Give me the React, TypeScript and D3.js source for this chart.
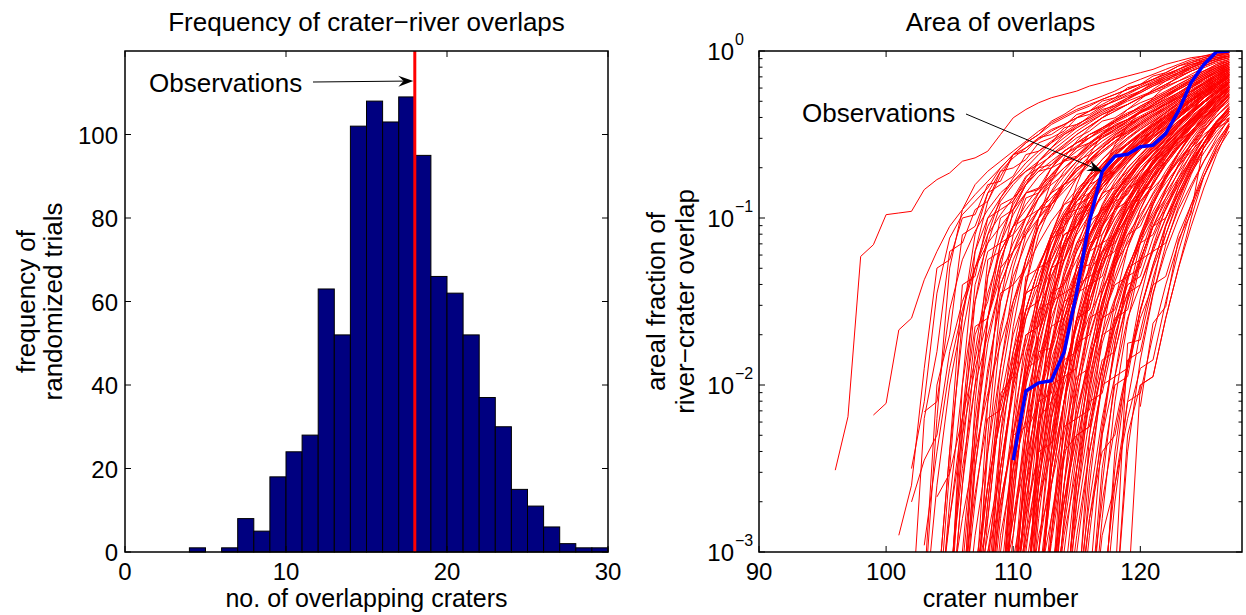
import React from "react";
import * as d3 from "d3";

// ---------------- Left panel data ----------------
const histBins = [4, 5, 6, 7, 8, 9, 10, 11, 12, 13, 14, 15, 16, 17, 18, 19, 20, 21, 22, 23, 24, 25, 26, 27, 28, 29];
const histCounts = [1, 0, 1, 8, 5, 18, 24, 28, 63, 52, 102, 108, 103, 109, 95, 66, 62, 52, 37, 30, 15, 11, 6, 2, 1, 1];
const observedOverlaps = 18;
const leftXTicks = [0, 10, 20, 30];
const leftYTicks = [0, 20, 40, 60, 80, 100];

// ---------------- Right panel data ----------------
const obsCrater = [110, 111, 112, 113, 114, 115, 116, 117, 118, 119, 120, 121, 122, 123, 124, 125, 126, 127];
const obsFraction = [0.00355, 0.0092, 0.0103, 0.0106, 0.0157, 0.036, 0.096, 0.19, 0.234, 0.241, 0.267, 0.273, 0.32, 0.438, 0.647, 0.83, 0.99, 1.0];

// randomized trials: [first crater number, log10(areal fraction) per crater]
const trialCurvesSmooth: [number, number[]][] = [
  [96, [-2.51, -2.19, -1.23, -1.16, -0.98, -0.97, -0.96, -0.83, -0.77, -0.73, -0.66, -0.64, -0.60, -0.50, -0.40, -0.35, -0.31, -0.28, -0.26, -0.24, -0.21, -0.19, -0.17, -0.15, -0.13, -0.11, -0.08, -0.06, -0.04, -0.03, -0.02, -0.01]],
  [99, [-2.18, -2.11, -1.67, -1.60, -1.37, -1.20, -1.05, -0.95, -0.86, -0.78, -0.70, -0.62, -0.55, -0.50, -0.44, -0.40, -0.36, -0.33, -0.29, -0.26, -0.23, -0.20, -0.17, -0.14, -0.11, -0.08, -0.06, -0.04, -0.03]],
  [102, [-2.50, -2.10, -1.45, -1.12, -0.98, -0.90, -0.82, -0.70, -0.62, -0.58, -0.52, -0.47, -0.44, -0.40, -0.36, -0.33, -0.30, -0.27, -0.24, -0.20, -0.17, -0.14, -0.11, -0.08, -0.05, -0.03]],
  [102, [-2.70, -2.45, -2.30, -1.80, -1.50, -1.30, -1.10, -0.98, -0.88, -0.80, -0.72, -0.66, -0.60, -0.55, -0.50, -0.46, -0.42, -0.38, -0.33, -0.29, -0.25, -0.21, -0.17, -0.13, -0.09, -0.06]],
  [103, [-2.16, -2.10, -1.55, -1.25, -1.08, -0.95, -0.85, -0.78, -0.72, -0.68, -0.63, -0.57, -0.50, -0.45, -0.40, -0.36, -0.32, -0.28, -0.24, -0.20, -0.16, -0.12, -0.09, -0.06, -0.04]],
  [103, [-2.96, -2.40, -1.90, -1.55, -1.30, -1.15, -1.05, -0.95, -0.85, -0.75, -0.68, -0.62, -0.57, -0.52, -0.48, -0.45, -0.41, -0.37, -0.33, -0.28, -0.23, -0.19, -0.15, -0.11, -0.08]],
  [104, [-2.67, -2.53, -2.20, -1.85, -1.45, -1.20, -1.05, -0.92, -0.82, -0.74, -0.66, -0.60, -0.55, -0.51, -0.47, -0.43, -0.39, -0.35, -0.30, -0.25, -0.20, -0.16, -0.12, -0.09]],
  [103, [-3.40, -2.60, -2.00, -1.60, -1.20, -1.00, -0.88, -0.78, -0.70, -0.62, -0.55, -0.50, -0.46, -0.42, -0.38, -0.35, -0.32, -0.28, -0.25, -0.22, -0.18, -0.14, -0.10, -0.07, -0.05]],
  [104, [-3.50, -2.80, -2.30, -1.90, -1.60, -1.35, -1.15, -1.00, -0.88, -0.78, -0.70, -0.64, -0.58, -0.52, -0.47, -0.42, -0.37, -0.32, -0.27, -0.22, -0.17, -0.13, -0.10, -0.07]],
  [104, [-3.30, -2.40, -1.70, -1.30, -1.05, -0.90, -0.80, -0.72, -0.66, -0.60, -0.54, -0.48, -0.43, -0.38, -0.34, -0.30, -0.27, -0.24, -0.21, -0.18, -0.15, -0.12, -0.08, -0.05]],
  [105, [-3.60, -3.00, -2.20, -1.60, -1.25, -1.05, -0.95, -0.85, -0.77, -0.70, -0.63, -0.57, -0.52, -0.47, -0.42, -0.37, -0.32, -0.27, -0.22, -0.18, -0.14, -0.10, -0.07]],
  [105, [-3.20, -2.50, -2.00, -1.70, -1.40, -1.20, -1.05, -0.95, -0.88, -0.80, -0.72, -0.65, -0.58, -0.52, -0.46, -0.41, -0.36, -0.31, -0.26, -0.21, -0.16, -0.12, -0.09]],
  [105, [-3.50, -2.60, -1.80, -1.35, -1.10, -0.92, -0.80, -0.70, -0.62, -0.56, -0.50, -0.45, -0.40, -0.36, -0.32, -0.28, -0.24, -0.20, -0.16, -0.12, -0.09, -0.06, -0.04]],
  [106, [-3.40, -2.70, -2.10, -1.65, -1.35, -1.15, -1.00, -0.90, -0.80, -0.72, -0.65, -0.58, -0.52, -0.47, -0.42, -0.37, -0.32, -0.27, -0.22, -0.17, -0.13, -0.10]],
  [106, [-3.10, -2.30, -1.75, -1.40, -1.20, -1.10, -1.00, -0.92, -0.84, -0.76, -0.68, -0.61, -0.55, -0.50, -0.45, -0.40, -0.35, -0.30, -0.25, -0.20, -0.16, -0.12]],
  [106, [-3.60, -2.90, -2.40, -1.90, -1.50, -1.25, -1.05, -0.90, -0.78, -0.68, -0.60, -0.54, -0.49, -0.44, -0.40, -0.36, -0.32, -0.28, -0.23, -0.19, -0.15, -0.11]],
  [106, [-3.30, -2.50, -1.90, -1.50, -1.25, -1.08, -0.95, -0.85, -0.75, -0.66, -0.58, -0.52, -0.48, -0.44, -0.40, -0.36, -0.32, -0.27, -0.22, -0.17, -0.12, -0.08]],
  [107, [-3.50, -2.70, -2.00, -1.55, -1.25, -1.05, -0.92, -0.82, -0.74, -0.67, -0.60, -0.54, -0.49, -0.44, -0.39, -0.34, -0.29, -0.24, -0.19, -0.14, -0.10]],
  [107, [-3.20, -2.60, -2.20, -1.85, -1.55, -1.30, -1.10, -0.96, -0.86, -0.77, -0.69, -0.62, -0.56, -0.50, -0.45, -0.40, -0.35, -0.30, -0.25, -0.20, -0.15]],
  [107, [-3.70, -2.80, -2.10, -1.70, -1.45, -1.28, -1.12, -0.98, -0.85, -0.74, -0.65, -0.57, -0.50, -0.44, -0.39, -0.34, -0.29, -0.24, -0.19, -0.15, -0.11]],
  [107, [-3.40, -2.40, -1.70, -1.30, -1.05, -0.88, -0.76, -0.66, -0.58, -0.52, -0.47, -0.43, -0.39, -0.35, -0.31, -0.27, -0.23, -0.19, -0.15, -0.11, -0.07]],
  [107, [-3.30, -2.90, -2.50, -2.00, -1.60, -1.35, -1.15, -1.00, -0.90, -0.82, -0.74, -0.66, -0.58, -0.51, -0.45, -0.39, -0.34, -0.29, -0.24, -0.19, -0.14]],
  [108, [-3.50, -2.60, -1.95, -1.55, -1.30, -1.12, -0.98, -0.87, -0.78, -0.70, -0.63, -0.56, -0.50, -0.44, -0.38, -0.33, -0.28, -0.23, -0.18, -0.13]],
  [108, [-3.20, -2.40, -1.80, -1.40, -1.10, -0.92, -0.80, -0.71, -0.63, -0.56, -0.50, -0.45, -0.40, -0.36, -0.32, -0.28, -0.24, -0.20, -0.15, -0.11]],
  [108, [-3.60, -3.00, -2.40, -1.95, -1.60, -1.35, -1.17, -1.02, -0.90, -0.80, -0.71, -0.63, -0.56, -0.49, -0.43, -0.37, -0.31, -0.26, -0.21, -0.16]],
  [108, [-3.40, -2.50, -2.00, -1.75, -1.45, -1.20, -1.00, -0.85, -0.74, -0.65, -0.58, -0.52, -0.47, -0.42, -0.37, -0.32, -0.27, -0.22, -0.17, -0.12]],
  [108, [-3.10, -2.30, -1.65, -1.25, -1.00, -0.84, -0.72, -0.63, -0.56, -0.50, -0.45, -0.41, -0.37, -0.33, -0.29, -0.25, -0.21, -0.17, -0.13, -0.09]],
  [108, [-3.50, -2.80, -2.20, -1.80, -1.50, -1.30, -1.15, -1.05, -0.96, -0.88, -0.80, -0.72, -0.64, -0.56, -0.49, -0.42, -0.36, -0.30, -0.24, -0.19]],
  [109, [-3.40, -2.50, -1.90, -1.50, -1.22, -1.02, -0.88, -0.77, -0.68, -0.60, -0.53, -0.47, -0.42, -0.37, -0.32, -0.27, -0.22, -0.17, -0.12]],
  [109, [-3.70, -2.90, -2.20, -1.70, -1.38, -1.15, -0.98, -0.85, -0.75, -0.67, -0.60, -0.54, -0.48, -0.42, -0.36, -0.30, -0.25, -0.20, -0.15]],
  [109, [-3.20, -2.40, -1.85, -1.55, -1.35, -1.18, -1.04, -0.92, -0.82, -0.73, -0.65, -0.58, -0.51, -0.45, -0.39, -0.33, -0.27, -0.22, -0.17]],
  [109, [-3.50, -2.70, -2.00, -1.45, -1.10, -0.90, -0.76, -0.66, -0.58, -0.51, -0.45, -0.40, -0.36, -0.32, -0.28, -0.24, -0.20, -0.15, -0.10]],
  [109, [-3.30, -2.80, -2.30, -1.90, -1.60, -1.38, -1.20, -1.06, -0.94, -0.84, -0.75, -0.67, -0.60, -0.53, -0.46, -0.39, -0.33, -0.27, -0.21]],
  [109, [-3.60, -2.60, -2.10, -1.75, -1.48, -1.26, -1.08, -0.94, -0.82, -0.72, -0.63, -0.55, -0.48, -0.42, -0.36, -0.30, -0.25, -0.20, -0.16]],
  [110, [-3.50, -2.60, -1.95, -1.50, -1.20, -1.00, -0.86, -0.75, -0.66, -0.58, -0.51, -0.45, -0.39, -0.33, -0.27, -0.22, -0.17, -0.12]],
  [110, [-3.30, -2.40, -1.80, -1.42, -1.15, -0.95, -0.80, -0.68, -0.59, -0.52, -0.46, -0.41, -0.36, -0.31, -0.26, -0.21, -0.16, -0.11]],
  [110, [-3.60, -3.00, -2.40, -1.95, -1.60, -1.34, -1.14, -0.98, -0.86, -0.76, -0.67, -0.59, -0.51, -0.44, -0.37, -0.31, -0.25, -0.19]],
  [110, [-3.40, -2.70, -2.10, -1.65, -1.32, -1.08, -0.90, -0.77, -0.67, -0.59, -0.52, -0.46, -0.40, -0.35, -0.30, -0.25, -0.20, -0.15]],
  [110, [-3.20, -2.50, -2.05, -1.75, -1.50, -1.30, -1.12, -0.97, -0.85, -0.75, -0.66, -0.58, -0.50, -0.43, -0.37, -0.31, -0.25, -0.20]],
  [110, [-3.70, -2.80, -2.00, -1.55, -1.25, -1.05, -0.92, -0.82, -0.73, -0.65, -0.57, -0.50, -0.44, -0.38, -0.32, -0.26, -0.20, -0.14]],
  [110, [-3.30, -2.90, -2.50, -2.10, -1.72, -1.42, -1.18, -1.00, -0.86, -0.75, -0.66, -0.58, -0.50, -0.43, -0.36, -0.30, -0.24, -0.18]],
  [111, [-3.50, -2.60, -1.95, -1.50, -1.18, -0.96, -0.80, -0.68, -0.58, -0.50, -0.43, -0.37, -0.31, -0.26, -0.21, -0.16, -0.11]],
  [111, [-3.30, -2.50, -1.90, -1.55, -1.30, -1.10, -0.95, -0.83, -0.73, -0.64, -0.56, -0.49, -0.42, -0.36, -0.30, -0.24, -0.18]],
  [111, [-3.60, -2.80, -2.20, -1.75, -1.42, -1.18, -1.00, -0.86, -0.75, -0.65, -0.57, -0.50, -0.43, -0.37, -0.31, -0.25, -0.19]],
  [111, [-3.40, -2.40, -1.75, -1.35, -1.08, -0.90, -0.77, -0.67, -0.59, -0.52, -0.46, -0.40, -0.34, -0.28, -0.22, -0.17, -0.12]],
  [111, [-3.20, -2.70, -2.30, -1.95, -1.65, -1.40, -1.20, -1.03, -0.89, -0.77, -0.67, -0.58, -0.50, -0.42, -0.35, -0.28, -0.22]],
  [111, [-3.70, -3.00, -2.30, -1.80, -1.45, -1.20, -1.02, -0.88, -0.77, -0.68, -0.60, -0.52, -0.45, -0.38, -0.31, -0.25, -0.19]],
  [111, [-3.50, -2.70, -2.15, -1.70, -1.35, -1.10, -0.93, -0.80, -0.70, -0.62, -0.54, -0.47, -0.40, -0.33, -0.27, -0.21, -0.15]],
  [112, [-3.40, -2.50, -1.85, -1.40, -1.12, -0.92, -0.78, -0.67, -0.58, -0.50, -0.43, -0.36, -0.30, -0.24, -0.18, -0.13]],
  [112, [-3.60, -2.90, -2.25, -1.75, -1.40, -1.15, -0.97, -0.83, -0.72, -0.62, -0.53, -0.45, -0.38, -0.31, -0.25, -0.19]],
  [112, [-3.30, -2.60, -2.10, -1.72, -1.45, -1.25, -1.08, -0.94, -0.82, -0.71, -0.61, -0.52, -0.44, -0.36, -0.29, -0.22]],
  [112, [-3.50, -2.40, -1.70, -1.28, -1.02, -0.85, -0.72, -0.62, -0.54, -0.47, -0.41, -0.35, -0.29, -0.23, -0.17, -0.12]],
  [112, [-3.20, -2.80, -2.40, -2.00, -1.65, -1.38, -1.16, -0.98, -0.84, -0.72, -0.62, -0.53, -0.45, -0.37, -0.30, -0.24]],
  [112, [-3.70, -2.90, -2.10, -1.60, -1.28, -1.06, -0.90, -0.78, -0.68, -0.59, -0.51, -0.44, -0.37, -0.30, -0.24, -0.18]],
  [113, [-3.50, -2.60, -1.90, -1.45, -1.15, -0.94, -0.79, -0.67, -0.57, -0.48, -0.40, -0.33, -0.26, -0.20, -0.14]],
  [113, [-3.30, -2.70, -2.20, -1.80, -1.50, -1.26, -1.07, -0.92, -0.79, -0.68, -0.58, -0.49, -0.41, -0.33, -0.26]],
  [113, [-3.60, -2.80, -2.10, -1.62, -1.30, -1.08, -0.92, -0.79, -0.68, -0.58, -0.49, -0.41, -0.33, -0.26, -0.19]],
  [113, [-3.40, -2.40, -1.75, -1.32, -1.04, -0.86, -0.73, -0.63, -0.54, -0.46, -0.39, -0.32, -0.25, -0.19, -0.13]],
  [113, [-3.20, -2.60, -2.15, -1.85, -1.60, -1.38, -1.18, -1.00, -0.85, -0.72, -0.61, -0.51, -0.42, -0.34, -0.27]],
  [113, [-3.70, -3.00, -2.40, -1.90, -1.52, -1.24, -1.03, -0.87, -0.74, -0.63, -0.53, -0.44, -0.36, -0.29, -0.22]],
  [114, [-3.50, -2.50, -1.85, -1.42, -1.12, -0.90, -0.74, -0.62, -0.52, -0.43, -0.35, -0.28, -0.21, -0.15]],
  [114, [-3.30, -2.80, -2.30, -1.90, -1.58, -1.32, -1.10, -0.92, -0.77, -0.64, -0.53, -0.43, -0.35, -0.28]],
  [114, [-3.60, -2.70, -2.05, -1.60, -1.28, -1.05, -0.88, -0.74, -0.62, -0.52, -0.43, -0.35, -0.27, -0.20]],
  [114, [-3.40, -2.60, -2.00, -1.55, -1.22, -0.98, -0.80, -0.66, -0.55, -0.45, -0.37, -0.30, -0.23, -0.17]],
  [114, [-3.20, -2.50, -2.00, -1.70, -1.48, -1.30, -1.12, -0.96, -0.82, -0.69, -0.58, -0.48, -0.39, -0.31]],
  [115, [-3.50, -2.60, -1.95, -1.50, -1.18, -0.95, -0.78, -0.64, -0.52, -0.42, -0.33, -0.25, -0.18]],
  [115, [-3.30, -2.70, -2.20, -1.80, -1.48, -1.22, -1.00, -0.83, -0.68, -0.56, -0.45, -0.36, -0.28]],
  [115, [-3.60, -2.90, -2.25, -1.75, -1.38, -1.10, -0.90, -0.74, -0.61, -0.50, -0.40, -0.31, -0.24]],
  [115, [-3.40, -2.30, -1.70, -1.30, -1.02, -0.82, -0.67, -0.55, -0.45, -0.36, -0.28, -0.21, -0.14]],
  [116, [-3.50, -2.60, -1.95, -1.48, -1.15, -0.92, -0.75, -0.61, -0.49, -0.38, -0.29, -0.21]],
  [116, [-3.30, -2.70, -2.25, -1.88, -1.56, -1.28, -1.04, -0.85, -0.69, -0.55, -0.43, -0.33]],
  [116, [-3.60, -2.80, -2.10, -1.62, -1.27, -1.02, -0.83, -0.68, -0.55, -0.44, -0.34, -0.26]],
  [117, [-3.40, -2.50, -1.90, -1.48, -1.17, -0.94, -0.76, -0.61, -0.48, -0.37, -0.28]],
  [117, [-3.50, -2.70, -2.10, -1.68, -1.36, -1.10, -0.88, -0.70, -0.55, -0.43, -0.34]],
  [118, [-3.20, -1.75, -1.73, -1.40, -1.05, -0.82, -0.65, -0.52, -0.42, -0.34]],
  [120, [-2.13, -1.63, -1.53, -1.13, -0.97, -0.55, -0.42, -0.35]],
  [118, [-3.40, -2.40, -1.85, -1.46, -1.16, -0.93, -0.74, -0.58, -0.45, -0.36]],
  [103, [-3.30, -2.20, -1.30, -0.95, -0.80, -0.72, -0.66, -0.60, -0.54, -0.48, -0.43, -0.39, -0.35, -0.32, -0.29, -0.26, -0.23, -0.20, -0.17, -0.14, -0.11, -0.08, -0.06, -0.04, -0.02]],
  [104, [-3.50, -2.50, -1.60, -1.10, -0.85, -0.72, -0.64, -0.58, -0.53, -0.48, -0.44, -0.40, -0.36, -0.32, -0.28, -0.25, -0.22, -0.19, -0.16, -0.13, -0.10, -0.07, -0.05, -0.03]],
  [105, [-3.40, -2.30, -1.50, -1.10, -0.88, -0.76, -0.67, -0.60, -0.54, -0.49, -0.44, -0.40, -0.36, -0.32, -0.28, -0.24, -0.20, -0.16, -0.13, -0.10, -0.07, -0.05, -0.03]],
  [106, [-3.50, -2.40, -1.60, -1.15, -0.90, -0.76, -0.66, -0.58, -0.52, -0.46, -0.41, -0.37, -0.33, -0.29, -0.25, -0.21, -0.18, -0.15, -0.12, -0.09, -0.06, -0.04]],
  [110, [-3.40, -2.70, -2.20, -1.85, -1.60, -1.45, -1.32, -1.20, -1.10, -1.00, -0.90, -0.82, -0.74, -0.66, -0.58, -0.50, -0.44, -0.40]],
  [112, [-3.30, -2.60, -2.10, -1.80, -1.58, -1.42, -1.28, -1.15, -1.02, -0.90, -0.79, -0.69, -0.60, -0.52, -0.46, -0.42]],
];

const trialCurvesStepped: [number, number[]][] = [
  [101, [-2.90, -2.60, -1.90, -1.30, -1.25, -1.00, -0.98, -0.80, -0.78, -0.62, -0.60, -0.52, -0.50, -0.45, -0.38, -0.36, -0.30, -0.28, -0.22, -0.20, -0.15, -0.13, -0.09, -0.07, -0.05, -0.03, -0.02]],
  [102, [-3.40, -2.20, -1.80, -1.20, -1.15, -0.95, -0.90, -0.72, -0.70, -0.65, -0.55, -0.52, -0.48, -0.40, -0.38, -0.33, -0.30, -0.26, -0.22, -0.18, -0.15, -0.12, -0.09, -0.06, -0.04, -0.03]],
  [103, [-3.20, -2.00, -1.70, -1.10, -1.05, -0.85, -0.80, -0.75, -0.62, -0.60, -0.55, -0.46, -0.44, -0.40, -0.35, -0.33, -0.28, -0.25, -0.21, -0.17, -0.14, -0.10, -0.07, -0.05, -0.03]],
  [104, [-3.30, -2.40, -1.40, -1.35, -1.00, -0.95, -0.90, -0.78, -0.70, -0.68, -0.60, -0.55, -0.50, -0.47, -0.42, -0.38, -0.33, -0.29, -0.25, -0.20, -0.16, -0.12, -0.08, -0.06]],
  [104, [-3.60, -2.70, -2.00, -1.50, -1.20, -1.15, -0.98, -0.85, -0.83, -0.74, -0.66, -0.64, -0.56, -0.50, -0.46, -0.42, -0.37, -0.34, -0.30, -0.26, -0.21, -0.17, -0.13, -0.10]],
  [105, [-3.30, -2.20, -1.40, -1.15, -0.92, -0.88, -0.75, -0.70, -0.62, -0.58, -0.52, -0.48, -0.42, -0.40, -0.35, -0.31, -0.28, -0.24, -0.20, -0.16, -0.12, -0.09, -0.06]],
  [105, [-3.50, -2.60, -2.00, -1.25, -1.20, -1.05, -0.85, -0.82, -0.70, -0.66, -0.58, -0.55, -0.49, -0.45, -0.41, -0.36, -0.33, -0.29, -0.25, -0.20, -0.16, -0.12, -0.08]],
  [105, [-3.20, -2.40, -1.70, -1.50, -1.15, -1.10, -1.00, -0.88, -0.80, -0.74, -0.66, -0.62, -0.57, -0.50, -0.46, -0.40, -0.36, -0.31, -0.27, -0.22, -0.18, -0.14, -0.11]],
  [106, [-3.40, -2.10, -1.35, -1.00, -0.95, -0.80, -0.72, -0.70, -0.60, -0.55, -0.52, -0.46, -0.42, -0.38, -0.34, -0.30, -0.26, -0.22, -0.18, -0.14, -0.10, -0.07]],
  [106, [-3.60, -2.50, -1.95, -1.45, -1.40, -1.10, -0.95, -0.92, -0.80, -0.70, -0.66, -0.58, -0.52, -0.49, -0.43, -0.38, -0.34, -0.29, -0.24, -0.20, -0.15, -0.11]],
  [106, [-3.30, -2.30, -1.60, -1.25, -1.05, -1.00, -0.85, -0.75, -0.65, -0.63, -0.55, -0.50, -0.44, -0.41, -0.36, -0.32, -0.27, -0.23, -0.19, -0.15, -0.11, -0.08]],
  [107, [-3.50, -2.30, -1.50, -1.10, -0.88, -0.85, -0.70, -0.62, -0.58, -0.50, -0.46, -0.41, -0.37, -0.34, -0.30, -0.26, -0.22, -0.18, -0.14, -0.10, -0.07]],
  [107, [-3.30, -2.60, -1.90, -1.40, -1.30, -1.05, -0.95, -0.80, -0.76, -0.66, -0.60, -0.54, -0.48, -0.44, -0.39, -0.35, -0.30, -0.26, -0.21, -0.17, -0.13]],
  [104, [-3.40, -2.80, -2.20, -1.65, -1.60, -1.30, -1.20, -1.00, -0.95, -0.85, -0.80, -0.70, -0.66, -0.58, -0.52, -0.48, -0.43, -0.38, -0.33, -0.28, -0.22, -0.17, -0.13, -0.09]],
  [107, [-3.60, -3.00, -2.50, -2.05, -1.70, -1.65, -1.30, -1.10, -1.05, -0.90, -0.80, -0.72, -0.65, -0.58, -0.52, -0.46, -0.40, -0.34, -0.28, -0.23, -0.18]],
  [107, [-3.20, -2.80, -2.10, -1.90, -1.45, -1.40, -1.15, -1.00, -0.90, -0.85, -0.74, -0.66, -0.60, -0.55, -0.48, -0.43, -0.37, -0.32, -0.26, -0.21, -0.16]],
  [108, [-3.40, -2.30, -1.90, -1.45, -1.40, -1.12, -1.08, -0.90, -0.80, -0.76, -0.66, -0.60, -0.52, -0.48, -0.41, -0.36, -0.30, -0.25, -0.20, -0.15]],
  [108, [-3.70, -2.90, -2.50, -2.00, -1.70, -1.45, -1.40, -1.20, -1.02, -0.96, -0.85, -0.76, -0.68, -0.60, -0.54, -0.47, -0.41, -0.35, -0.29, -0.23]],
  [108, [-3.30, -2.60, -2.00, -1.35, -1.30, -1.10, -0.92, -0.88, -0.74, -0.70, -0.60, -0.56, -0.49, -0.45, -0.39, -0.34, -0.29, -0.24, -0.19, -0.14]],
  [109, [-3.50, -2.30, -1.70, -1.65, -1.30, -1.10, -1.05, -0.86, -0.80, -0.70, -0.64, -0.56, -0.50, -0.44, -0.38, -0.33, -0.27, -0.22, -0.17]],
  [109, [-3.20, -2.90, -2.30, -2.10, -1.75, -1.50, -1.45, -1.20, -1.05, -0.95, -0.84, -0.75, -0.67, -0.59, -0.52, -0.45, -0.38, -0.32, -0.26]],
  [109, [-3.60, -2.70, -1.95, -1.55, -1.50, -1.20, -0.98, -0.95, -0.80, -0.72, -0.64, -0.58, -0.51, -0.46, -0.40, -0.34, -0.28, -0.23, -0.18]],
  [109, [-3.30, -2.50, -2.20, -1.80, -1.78, -1.40, -1.25, -1.10, -1.00, -0.88, -0.80, -0.70, -0.62, -0.55, -0.48, -0.42, -0.36, -0.30, -0.24]],
  [110, [-3.40, -2.40, -1.90, -1.50, -1.45, -1.15, -1.00, -0.85, -0.82, -0.70, -0.62, -0.55, -0.48, -0.42, -0.36, -0.30, -0.24, -0.19]],
  [110, [-3.60, -3.10, -2.60, -2.10, -1.95, -1.60, -1.35, -1.30, -1.10, -0.95, -0.85, -0.75, -0.66, -0.58, -0.50, -0.43, -0.36, -0.30]],
  [110, [-3.30, -2.50, -1.70, -1.30, -1.25, -1.00, -0.90, -0.76, -0.72, -0.62, -0.55, -0.50, -0.43, -0.38, -0.32, -0.26, -0.21, -0.16]],
  [110, [-3.50, -2.90, -2.20, -2.10, -1.70, -1.45, -1.40, -1.15, -1.00, -0.90, -0.80, -0.70, -0.62, -0.55, -0.48, -0.40, -0.33, -0.27]],
  [111, [-3.40, -2.30, -1.80, -1.45, -1.40, -1.10, -0.95, -0.90, -0.76, -0.68, -0.60, -0.52, -0.45, -0.38, -0.31, -0.25, -0.19]],
  [111, [-3.60, -2.70, -2.40, -1.95, -1.60, -1.55, -1.25, -1.10, -0.95, -0.88, -0.76, -0.66, -0.57, -0.49, -0.41, -0.34, -0.27]],
  [111, [-3.30, -2.60, -2.00, -1.62, -1.30, -1.28, -1.05, -0.90, -0.86, -0.72, -0.64, -0.56, -0.48, -0.41, -0.34, -0.28, -0.22]],
  [111, [-3.50, -3.00, -2.20, -1.85, -1.80, -1.45, -1.20, -1.15, -0.98, -0.85, -0.75, -0.66, -0.57, -0.49, -0.42, -0.35, -0.29]],
  [112, [-3.40, -2.40, -1.80, -1.50, -1.20, -1.15, -0.95, -0.82, -0.78, -0.65, -0.56, -0.48, -0.40, -0.33, -0.26, -0.20]],
  [112, [-3.60, -2.80, -2.30, -1.95, -1.90, -1.50, -1.30, -1.10, -1.05, -0.88, -0.76, -0.66, -0.56, -0.47, -0.39, -0.32]],
  [112, [-3.30, -2.50, -2.10, -1.60, -1.55, -1.25, -1.05, -0.92, -0.85, -0.72, -0.62, -0.53, -0.45, -0.37, -0.30, -0.24]],
  [112, [-3.50, -2.90, -2.40, -2.30, -1.85, -1.60, -1.40, -1.35, -1.15, -1.00, -0.88, -0.76, -0.65, -0.55, -0.46, -0.38]],
  [113, [-3.40, -2.60, -2.00, -1.60, -1.55, -1.25, -1.05, -0.90, -0.80, -0.68, -0.58, -0.48, -0.40, -0.32, -0.25]],
  [113, [-3.60, -2.80, -2.20, -2.15, -1.75, -1.50, -1.30, -1.25, -1.05, -0.90, -0.78, -0.66, -0.56, -0.46, -0.38]],
  [113, [-3.30, -2.40, -1.85, -1.45, -1.15, -1.10, -0.92, -0.78, -0.70, -0.60, -0.50, -0.42, -0.34, -0.27, -0.21]],
  [108, [-3.50, -2.70, -2.30, -1.90, -1.85, -1.55, -1.35, -1.15, -1.10, -0.98, -0.88, -0.80, -0.72, -0.64, -0.57, -0.50, -0.43, -0.37, -0.31, -0.25]],
  [109, [-3.40, -2.60, -1.85, -1.40, -1.10, -1.05, -0.88, -0.76, -0.72, -0.62, -0.55, -0.50, -0.44, -0.39, -0.34, -0.29, -0.24, -0.19, -0.14]],
  [110, [-3.20, -2.30, -1.60, -1.20, -0.98, -0.95, -0.80, -0.70, -0.62, -0.56, -0.50, -0.44, -0.39, -0.34, -0.29, -0.24, -0.19, -0.14]],
  [111, [-3.50, -2.20, -1.55, -1.15, -0.95, -0.92, -0.78, -0.68, -0.60, -0.53, -0.47, -0.41, -0.35, -0.29, -0.23, -0.18, -0.13]],
  [114, [-3.40, -2.60, -2.10, -1.70, -1.65, -1.35, -1.15, -1.10, -0.92, -0.80, -0.66, -0.55, -0.45, -0.37]],
  [114, [-3.60, -3.00, -2.40, -2.00, -1.95, -1.60, -1.40, -1.20, -1.15, -0.95, -0.80, -0.66, -0.54, -0.44]],
  [115, [-3.30, -2.50, -2.00, -1.60, -1.55, -1.25, -1.05, -0.95, -0.78, -0.64, -0.52, -0.42, -0.34]],
  [115, [-3.50, -2.80, -2.40, -2.30, -1.90, -1.60, -1.40, -1.35, -1.10, -0.92, -0.75, -0.60, -0.48]],
  [116, [-3.40, -2.50, -2.00, -1.95, -1.55, -1.30, -1.10, -0.90, -0.72, -0.58, -0.46, -0.38]],
  [116, [-3.60, -2.90, -2.60, -2.20, -1.90, -1.85, -1.50, -1.20, -0.95, -0.75, -0.58, -0.45]],
  [117, [-3.30, -2.60, -2.10, -2.05, -1.70, -1.40, -1.15, -0.92, -0.72, -0.56, -0.43]],
  [117, [-3.50, -2.40, -1.85, -1.80, -1.45, -1.20, -1.00, -0.82, -0.66, -0.52, -0.40]],
  [118, [-3.40, -2.30, -2.00, -1.95, -1.60, -1.30, -1.05, -0.82, -0.62, -0.45]],
  [119, [-3.30, -2.00, -1.95, -1.60, -1.30, -1.00, -0.75, -0.58, -0.44]],
  [116, [-3.20, -2.30, -1.75, -1.35, -1.30, -1.05, -0.88, -0.72, -0.58, -0.46, -0.36, -0.28]],
  [113, [-3.50, -2.90, -2.50, -2.10, -2.05, -1.70, -1.45, -1.25, -1.20, -1.00, -0.85, -0.70, -0.58, -0.48, -0.40]],
  [105, [-3.40, -2.00, -1.20, -0.90, -0.75, -0.62, -0.55, -0.50, -0.42, -0.38, -0.33, -0.30, -0.27, -0.24, -0.20, -0.17, -0.14, -0.11, -0.08, -0.05, -0.03, -0.01, 0.0]],
  [107, [-3.30, -2.10, -1.30, -0.95, -0.80, -0.66, -0.58, -0.50, -0.45, -0.39, -0.34, -0.29, -0.25, -0.21, -0.17, -0.13, -0.09, -0.06, -0.04, -0.02, -0.01]],
  [109, [-3.50, -2.20, -1.40, -1.00, -0.78, -0.64, -0.54, -0.46, -0.40, -0.34, -0.29, -0.24, -0.19, -0.15, -0.11, -0.07, -0.04, -0.02, -0.01]],
  [111, [-3.40, -2.30, -1.50, -1.05, -0.80, -0.62, -0.50, -0.42, -0.35, -0.29, -0.23, -0.18, -0.13, -0.09, -0.05, -0.03, -0.01]],
  [113, [-3.30, -2.20, -1.40, -0.95, -0.72, -0.56, -0.45, -0.36, -0.28, -0.21, -0.15, -0.10, -0.06, -0.03, -0.01]],
];

const trialCurvesDense: [number, number[]][] = [
  [106, [-3.50, -3.10, -2.60, -2.20, -1.90, -1.60, -1.40, -1.20, -1.05, -0.95, -0.85, -0.78, -0.70, -0.62, -0.55, -0.48, -0.42, -0.36, -0.30, -0.25, -0.20, -0.15]],
  [107, [-3.40, -3.00, -2.70, -2.30, -1.95, -1.70, -1.45, -1.25, -1.10, -0.98, -0.86, -0.76, -0.67, -0.59, -0.52, -0.45, -0.39, -0.33, -0.27, -0.22, -0.17]],
  [108, [-3.60, -3.20, -2.80, -2.45, -2.10, -1.80, -1.55, -1.35, -1.18, -1.04, -0.92, -0.82, -0.72, -0.63, -0.55, -0.48, -0.41, -0.34, -0.28, -0.22]],
  [109, [-3.50, -3.05, -2.60, -2.25, -1.95, -1.70, -1.48, -1.30, -1.14, -1.00, -0.88, -0.77, -0.67, -0.58, -0.50, -0.42, -0.35, -0.28, -0.22]],
  [110, [-3.40, -2.95, -2.55, -2.20, -1.90, -1.65, -1.42, -1.22, -1.05, -0.90, -0.78, -0.68, -0.59, -0.51, -0.43, -0.36, -0.29, -0.23]],
  [111, [-3.60, -3.00, -2.50, -2.10, -1.78, -1.50, -1.28, -1.10, -0.95, -0.82, -0.71, -0.61, -0.52, -0.44, -0.36, -0.29, -0.22]],
  [112, [-3.50, -2.95, -2.45, -2.05, -1.72, -1.45, -1.22, -1.03, -0.88, -0.75, -0.64, -0.54, -0.45, -0.37, -0.29, -0.22]],
  [113, [-3.40, -2.85, -2.35, -1.95, -1.62, -1.35, -1.13, -0.95, -0.80, -0.67, -0.56, -0.46, -0.37, -0.29, -0.22]],
  [114, [-3.50, -2.90, -2.40, -2.00, -1.65, -1.36, -1.12, -0.92, -0.76, -0.62, -0.50, -0.40, -0.31, -0.23]],
  [105, [-3.30, -2.80, -2.40, -2.05, -1.75, -1.50, -1.30, -1.15, -1.02, -0.92, -0.83, -0.75, -0.68, -0.61, -0.55, -0.49, -0.43, -0.37, -0.31, -0.25, -0.19, -0.14, -0.10]],
  [106, [-3.20, -2.65, -2.20, -2.15, -1.80, -1.55, -1.50, -1.25, -1.10, -1.05, -0.92, -0.82, -0.74, -0.66, -0.59, -0.52, -0.46, -0.40, -0.34, -0.28, -0.22, -0.17]],
  [108, [-3.30, -2.75, -2.30, -2.25, -1.90, -1.65, -1.60, -1.35, -1.15, -1.10, -0.95, -0.85, -0.76, -0.68, -0.60, -0.53, -0.46, -0.39, -0.33, -0.27]],
  [109, [-3.70, -3.20, -2.75, -2.40, -2.35, -2.00, -1.75, -1.70, -1.45, -1.25, -1.10, -0.98, -0.86, -0.75, -0.65, -0.56, -0.47, -0.39, -0.32]],
  [110, [-3.30, -2.80, -2.40, -2.00, -1.95, -1.62, -1.40, -1.35, -1.12, -0.98, -0.86, -0.76, -0.66, -0.57, -0.48, -0.40, -0.33, -0.26]],
  [111, [-3.40, -2.90, -2.60, -2.25, -2.20, -1.85, -1.60, -1.55, -1.30, -1.12, -0.98, -0.85, -0.73, -0.62, -0.52, -0.43, -0.35]],
  [112, [-3.60, -3.10, -2.70, -2.30, -2.25, -1.90, -1.65, -1.45, -1.40, -1.18, -1.00, -0.86, -0.73, -0.61, -0.50, -0.41]],
  [113, [-3.20, -2.70, -2.30, -2.25, -1.90, -1.62, -1.40, -1.35, -1.12, -0.95, -0.80, -0.67, -0.55, -0.45, -0.36]],
  [114, [-3.30, -2.70, -2.20, -1.85, -1.80, -1.50, -1.25, -1.05, -1.00, -0.82, -0.68, -0.55, -0.44, -0.35]],
  [115, [-3.40, -2.80, -2.30, -1.95, -1.90, -1.55, -1.28, -1.05, -0.88, -0.72, -0.58, -0.46, -0.36]],
  [107, [-3.50, -2.70, -2.05, -1.95, -1.55, -1.30, -1.25, -1.05, -0.92, -0.88, -0.76, -0.68, -0.61, -0.54, -0.48, -0.42, -0.36, -0.30, -0.24, -0.19, -0.14]],
  [112, [-3.20, -2.50, -1.95, -1.90, -1.50, -1.25, -1.20, -1.00, -0.85, -0.80, -0.66, -0.55, -0.45, -0.36, -0.28, -0.21]],
  [110, [-3.50, -2.60, -2.10, -2.05, -1.65, -1.40, -1.35, -1.10, -0.95, -0.90, -0.76, -0.66, -0.57, -0.49, -0.41, -0.34, -0.27, -0.21]],
];

const trialCurves = [...trialCurvesSmooth, ...trialCurvesStepped, ...trialCurvesDense];

const rightXTicks = [90, 100, 110, 120];
const rightYTicks = [1e-3, 1e-2, 1e-1, 1];
const rightYExponents = ["\u22123", "\u22122", "\u22121", "0"];

const FONT = "'Liberation Sans', Arial, Helvetica, sans-serif";

function arrowHead(x1: number, y1: number, x2: number, y2: number, len = 15, half = 5.5, back = 0.65) {
  const a = Math.atan2(y2 - y1, x2 - x1);
  const ux = Math.cos(a), uy = Math.sin(a);
  const px = -uy, py = ux;
  const bx = x2 - ux * len, by = y2 - uy * len;
  const nx = x2 - ux * len * back, ny = y2 - uy * len * back;
  return {
    head: `M${x2},${y2}L${bx + px * half},${by + py * half}L${nx},${ny}L${bx - px * half},${by - py * half}Z`,
    nx, ny,
  };
}

export default function App() {
  const L = { x0: 125, x1: 608, y0: 51, y1: 552 };
  const R = { x0: 759, x1: 1242, y0: 51, y1: 552 };
  const xL = d3.scaleLinear().domain([0, 30]).range([L.x0, L.x1]);
  const yL = d3.scaleLinear().domain([0, 120]).range([L.y1, L.y0]);
  const xR = d3.scaleLinear().domain([90, 128]).range([R.x0, R.x1]);
  const yR = d3.scaleLog().domain([1e-3, 1]).range([R.y1, R.y0]);

  const line = d3
    .line<[number, number]>()
    .x((d) => xR(d[0]))
    .y((d) => yR(Math.pow(10, d[1])));

  const obsLine = d3
    .line<number>()
    .x((_, i) => xR(obsCrater[i]))
    .y((d) => yR(d));

  const minorTicks: number[] = [];
  for (let k = -3; k < 0; k++) for (let m = 2; m <= 9; m++) minorTicks.push(m * Math.pow(10, k));

  const tickLen = 6;
  const minorLen = 3.5;

  const leftArrow = arrowHead(313, 82, xL(observedOverlaps) - 1.5, 81);
  const tipX = xR(117), tipY = yR(0.19);
  const rightArrow = arrowHead(966, 114, tipX, tipY);

  const tickFont = 24;
  const labelFont = 26;

  return (
    <svg
      width={1246}
      height={615}
      style={{ position: "absolute", left: 0, top: 0, background: "#fff" }}
      fontFamily={FONT}
    >
      <defs>
        <clipPath id="clipR">
          <rect x={R.x0} y={R.y0} width={R.x1 - R.x0} height={R.y1 - R.y0} />
        </clipPath>
      </defs>
      <rect x={0} y={0} width={1246} height={615} fill="#fff" />

      {/* ---------------- LEFT PANEL ---------------- */}
      <text x={(L.x0 + L.x1) / 2} y={31} fontSize={labelFont} textAnchor="middle">
        Frequency of crater{"\u2212"}river overlaps
      </text>
      {histBins.map((b, i) =>
        histCounts[i] > 0 ? (
          <rect
            key={"bar" + i}
            x={xL(b)}
            y={yL(histCounts[i])}
            width={xL(b + 1) - xL(b)}
            height={yL(0) - yL(histCounts[i])}
            fill="#000080"
            stroke="#000"
            strokeWidth={1}
          />
        ) : null
      )}
      <line x1={xL(observedOverlaps)} x2={xL(observedOverlaps)} y1={L.y0} y2={L.y1} stroke="#ff0000" strokeWidth={3} />
      <rect x={L.x0} y={L.y0} width={L.x1 - L.x0} height={L.y1 - L.y0} fill="none" stroke="#000" strokeWidth={1.5} />
      {leftXTicks.map((t) => (
        <g key={"lxt" + t}>
          <line x1={xL(t)} x2={xL(t)} y1={L.y1} y2={L.y1 - tickLen} stroke="#000" strokeWidth={1} />
          <line x1={xL(t)} x2={xL(t)} y1={L.y0} y2={L.y0 + tickLen} stroke="#000" strokeWidth={1} />
          <text x={xL(t)} y={580} fontSize={tickFont} textAnchor="middle">
            {t}
          </text>
        </g>
      ))}
      {leftYTicks.map((t) => (
        <g key={"lyt" + t}>
          <line x1={L.x0} x2={L.x0 + tickLen} y1={yL(t)} y2={yL(t)} stroke="#000" strokeWidth={1} />
          <line x1={L.x1} x2={L.x1 - tickLen} y1={yL(t)} y2={yL(t)} stroke="#000" strokeWidth={1} />
          <text x={118} y={yL(t) + 9} fontSize={tickFont} textAnchor="end">
            {t}
          </text>
        </g>
      ))}
      <text x={(L.x0 + L.x1) / 2} y={607} fontSize={25} textAnchor="middle">
        no. of overlapping craters
      </text>
      <text transform={`translate(35,${(L.y0 + L.y1) / 2}) rotate(-90)`} fontSize={labelFont} textAnchor="middle">
        frequency of
      </text>
      <text transform={`translate(62,${(L.y0 + L.y1) / 2}) rotate(-90)`} fontSize={labelFont} textAnchor="middle">
        randomized trials
      </text>
      <text x={149} y={92} fontSize={labelFont}>
        Observations
      </text>
      <line x1={313} y1={82} x2={leftArrow.nx} y2={leftArrow.ny} stroke="#000" strokeWidth={1} />
      <path d={leftArrow.head} fill="#000" />

      {/* ---------------- RIGHT PANEL ---------------- */}
      <text x={(R.x0 + R.x1) / 2} y={31} fontSize={labelFont} textAnchor="middle">
        Area of overlaps
      </text>
      <g clipPath="url(#clipR)">
        {trialCurves.map(([start, vals], i) => (
          <path
            key={"tr" + i}
            d={line(vals.map((v, j) => [start + j, v] as [number, number])) || ""}
            fill="none"
            stroke="#ff0000"
            strokeWidth={1}
          />
        ))}
        <path d={obsLine(obsFraction) || ""} fill="none" stroke="#0000ff" strokeWidth={3.5} strokeLinejoin="round" />
      </g>
      <rect x={R.x0} y={R.y0} width={R.x1 - R.x0} height={R.y1 - R.y0} fill="none" stroke="#000" strokeWidth={1.5} />
      {rightXTicks.map((t) => (
        <g key={"rxt" + t}>
          <line x1={xR(t)} x2={xR(t)} y1={R.y1} y2={R.y1 - tickLen} stroke="#000" strokeWidth={1} />
          <line x1={xR(t)} x2={xR(t)} y1={R.y0} y2={R.y0 + tickLen} stroke="#000" strokeWidth={1} />
          <text x={xR(t)} y={580} fontSize={tickFont} textAnchor="middle">
            {t}
          </text>
        </g>
      ))}
      {rightYTicks.map((t, i) => (
        <g key={"ryt" + i}>
          <line x1={R.x0} x2={R.x0 + tickLen} y1={yR(t)} y2={yR(t)} stroke="#000" strokeWidth={1} />
          <line x1={R.x1} x2={R.x1 - tickLen} y1={yR(t)} y2={yR(t)} stroke="#000" strokeWidth={1} />
          <text x={734} y={yR(t) + 9} fontSize={tickFont} textAnchor="end">
            10
          </text>
          <text x={735} y={yR(t) - 6} fontSize={16} textAnchor="start">
            {rightYExponents[i]}
          </text>
        </g>
      ))}
      {minorTicks.map((t, i) => (
        <g key={"rmt" + i}>
          <line x1={R.x0} x2={R.x0 + minorLen} y1={yR(t)} y2={yR(t)} stroke="#000" strokeWidth={1} />
          <line x1={R.x1} x2={R.x1 - minorLen} y1={yR(t)} y2={yR(t)} stroke="#000" strokeWidth={1} />
        </g>
      ))}
      <text x={(R.x0 + R.x1) / 2} y={607} fontSize={25} textAnchor="middle">
        crater number
      </text>
      <text transform={`translate(665,${(R.y0 + R.y1) / 2}) rotate(-90)`} fontSize={labelFont} textAnchor="middle">
        areal fraction of
      </text>
      <text transform={`translate(694,${(R.y0 + R.y1) / 2}) rotate(-90)`} fontSize={labelFont} textAnchor="middle">
        river{"\u2212"}crater overlap
      </text>
      <text x={802} y={122} fontSize={labelFont}>
        Observations
      </text>
      <line x1={966} y1={114} x2={rightArrow.nx} y2={rightArrow.ny} stroke="#000" strokeWidth={1} />
      <path d={rightArrow.head} fill="#000" />
    </svg>
  );
}
